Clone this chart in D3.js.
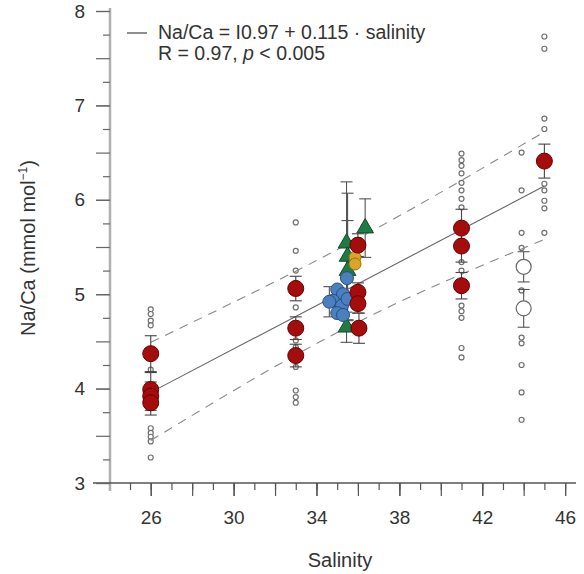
<!DOCTYPE html>
<html><head><meta charset="utf-8">
<script src="https://cdn.jsdelivr.net/npm/d3@7"></script>
<style>body{margin:0;background:#fff}svg{display:block}text{font-family:"Liberation Sans",Arial,sans-serif}</style>
</head><body><svg id="c" width="584" height="574"></svg>
<script>
// ---- data ----
const salinityTicks = [26, 30, 34, 38, 42, 46];
const naCaTicks = [3, 4, 5, 6, 7, 8];

// individual measurements (small open circles), [salinity, Na/Ca]
const samples = [
  [26,4.84],[26,4.79],[26,4.72],[26,4.67],[26,4.20],[26,3.58],[26,3.53],[26,3.49],[26,3.44],[26,3.27],
  [33,5.76],[33,5.46],[33,5.25],[33,5.12],[33,4.86],[33,4.51],[33,4.44],[33,4.23],[33,3.98],[33,3.91],[33,3.85],
  [41,6.49],[41,6.42],[41,6.36],[41,6.28],[41,6.18],[41,6.10],[41,6.01],[41,5.92],[41,5.34],[41,5.25],[41,4.88],[41,4.82],[41,4.75],[41,4.43],[41,4.33],
  [43.9,6.50],[43.9,6.10],[43.9,5.65],[43.9,5.49],[43.9,5.04],[43.9,4.54],[43.9,4.48],[43.9,4.25],[43.9,3.96],[43.9,3.67],
  [45,7.73],[45,7.60],[45,6.86],[45,6.75],[45,6.17],[45,6.10],[45,5.99],[45,5.91],[45,5.65]
];

// red means [salinity, Na/Ca, error]
const redMeans = [
  [26,4.37,0.19],[26,3.99,0.18],[26,3.92,0.15],[26,3.85,0.13],
  [33,5.06,0.13],[33,4.64,0.12],[33,4.35,0.12],
  [36,5.52,0.12],[36,5.02,0.10],[36,4.90,0.10],[36.05,4.64,0.16],
  [41,5.70,0.20],[41,5.51,0.17],[41,5.09,0.14],
  [45,6.41,0.18]
];
// green triangles
const greenMeans = [[35.45,5.54,0.65],[35.5,5.40,0.67],[36.35,5.70,0.31],[35.5,5.25,0.53],[35.45,4.65,0.16]];
// yellow
const yellowMeans = [[35.86,5.39],[35.86,5.32]];
// blue
const blueMeans = [[35.47,5.17],[35.0,5.05],[35.28,5.00],[34.8,4.93],[35.23,4.88],[35.0,4.80],[35.28,4.78],[35.5,4.95],[34.62,4.92,0.16]];
// open (excluded) means
const openMeans = [[44,5.29,0.16],[44,4.85,0.20]];

// regression and prediction band
const fitLine = [[26,3.96],[45,6.145]];
const upperBand = [[26,4.49],[35.5,5.53],[45,6.72]];
const lowerBand = [[26,3.45],[35.5,4.65],[45,5.58]];

// ---- drawing ----
const svg = d3.select("#c");
const x = d3.scaleLinear().domain([24,46]).range([109.3,565.1]);
const y = d3.scaleLinear().domain([3,8]).range([483,11]);

// axes lines
svg.append("line").attr("x1",110).attr("x2",110).attr("y1",8).attr("y2",491).attr("stroke","#b0b0b0").attr("stroke-width",2.5);
svg.append("line").attr("x1",93).attr("x2",576).attr("y1",483).attr("y2",483).attr("stroke","#555").attr("stroke-width",1.3);

function axisX(vals,size,labels){
  const g = svg.append("g").attr("transform","translate(0,483)")
    .call(d3.axisBottom(x).tickValues(vals).tickSize(size).tickPadding(15).tickFormat(labels?d3.format("d"):""));
  g.select(".domain").remove();
  g.selectAll(".tick line").attr("stroke","#555").attr("stroke-width",1.2);
  g.selectAll("text").attr("font-size",19).attr("fill","#333").attr("font-family","Liberation Sans, Arial, sans-serif");
}
axisX(d3.range(25,47,1),7,false);
axisX(d3.range(26,47,2),13,false);
axisX(salinityTicks,13,true);

function axisY(vals,size,labels){
  const g = svg.append("g").attr("transform","translate(110,0)")
    .call(d3.axisLeft(y).tickValues(vals).tickSize(size).tickPadding(11).tickFormat(labels?d3.format("d"):""));
  g.select(".domain").remove();
  g.selectAll(".tick line").attr("stroke","#666").attr("stroke-width",1.2);
  g.selectAll("text").attr("font-size",19).attr("fill","#333").attr("font-family","Liberation Sans, Arial, sans-serif");
}
axisY(d3.range(3.25,8.01,0.5),7,false);
axisY(d3.range(3,8.01,0.5),14,false);
axisY(naCaTicks,14,true);

// titles
svg.append("text").attr("x",340).attr("y",567).attr("text-anchor","middle").attr("font-size",20).attr("fill","#333").text("Salinity");
const yt = svg.append("text").attr("transform","translate(35,248) rotate(-90)").attr("text-anchor","middle").attr("font-size",20).attr("fill","#333");
yt.append("tspan").text("Na/Ca (mmol mol");
yt.append("tspan").attr("dy",-8).attr("font-size",12).text("−1");
yt.append("tspan").attr("dy",8).text(")");

// sample circles
svg.append("g").selectAll("circle").data(samples).join("circle")
  .attr("cx",d=>x(d[0])).attr("cy",d=>y(d[1])).attr("r",2.5)
  .attr("fill","#fff").attr("stroke","#707070").attr("stroke-width",1.2);

// lines
const line = d3.line().x(d=>x(d[0])).y(d=>y(d[1]));
const curve = d3.line().x(d=>x(d[0])).y(d=>y(d[1])).curve(d3.curveNatural);
svg.append("path").attr("d",line(fitLine)).attr("stroke","#666").attr("stroke-width",1.1).attr("fill","none");
svg.append("path").attr("d",curve(upperBand)).attr("stroke","#888").attr("stroke-width",1.1).attr("stroke-dasharray","9,7").attr("fill","none");
svg.append("path").attr("d",curve(lowerBand)).attr("stroke","#888").attr("stroke-width",1.1).attr("stroke-dasharray","9,7").attr("fill","none");

// error bars
function errBars(data,color){
  const g = svg.append("g").attr("stroke",color).attr("stroke-width",1.1);
  data.filter(d=>d[2]!==undefined).forEach(d=>{
    const cx=x(d[0]), t=y(d[1]+d[2]), b=y(d[1]-d[2]);
    g.append("line").attr("x1",cx).attr("x2",cx).attr("y1",t).attr("y2",b);
    g.append("line").attr("x1",cx-6).attr("x2",cx+6).attr("y1",t).attr("y2",t);
    g.append("line").attr("x1",cx-6).attr("x2",cx+6).attr("y1",b).attr("y2",b);
  });
}
errBars(openMeans,"#555");
errBars(greenMeans,"#555");
errBars(blueMeans,"#555");
errBars(redMeans,"#444");

// open means
svg.append("g").selectAll("circle").data(openMeans).join("circle")
  .attr("cx",d=>x(d[0])).attr("cy",d=>y(d[1])).attr("r",7.5)
  .attr("fill","#fff").attr("stroke","#666").attr("stroke-width",1.2);
// green triangles
svg.append("g").selectAll("path").data(greenMeans).join("path")
  .attr("transform",d=>`translate(${x(d[0])},${y(d[1])})`)
  .attr("d",d3.symbol(d3.symbolTriangle,120))
  .attr("fill","#1f7a45").attr("stroke","#0f4a28").attr("stroke-width",1);
// blue
svg.append("g").selectAll("circle").data(blueMeans).join("circle")
  .attr("cx",d=>x(d[0])).attr("cy",d=>y(d[1])).attr("r",6.5)
  .attr("fill","#4a7fc0").attr("stroke","#2a4f80").attr("stroke-width",1);
// yellow
svg.append("g").selectAll("circle").data(yellowMeans).join("circle")
  .attr("cx",d=>x(d[0])).attr("cy",d=>y(d[1])).attr("r",6)
  .attr("fill","#d9a526").attr("stroke","#9a7010").attr("stroke-width",1);
// red
svg.append("g").selectAll("circle").data(redMeans).join("circle")
  .attr("cx",d=>x(d[0])).attr("cy",d=>y(d[1])).attr("r",8)
  .attr("fill","#a50d0d").attr("stroke","#6a0000").attr("stroke-width",1);

// legend
svg.append("line").attr("x1",127).attr("x2",147).attr("y1",33).attr("y2",33).attr("stroke","#444").attr("stroke-width",1.2);
svg.append("text").attr("x",158).attr("y",39).attr("font-size",19.5).attr("fill","#333").text("Na/Ca = I0.97 + 0.115 · salinity");
const l2 = svg.append("text").attr("x",158).attr("y",60).attr("font-size",19.5).attr("fill","#333");
l2.append("tspan").text("R = 0.97, ");
l2.append("tspan").attr("font-style","italic").text("p");
l2.append("tspan").text(" < 0.005");
</script></body></html>
